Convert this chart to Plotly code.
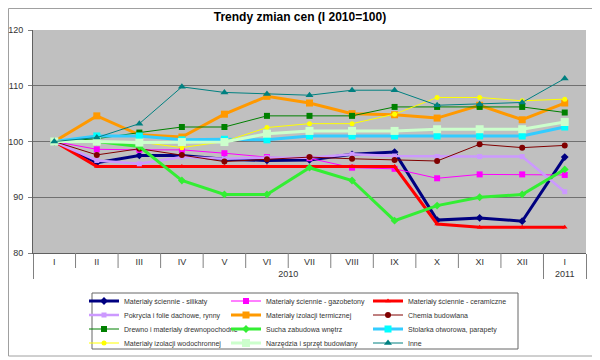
import plotly.graph_objects as go

months = ["I", "II", "III", "IV", "V", "VI", "VII", "VIII", "IX", "X", "XI", "XII", "I"]
years = ["2010"] * 12 + ["2011"]

silikaty      = [100, 96.2, 97.5, 97.5, 96.8, 96.6, 96.7, 97.7, 98.1, 85.9, 86.3, 85.7, 97.2]
gazobetony    = [100, 98.6, 98.5, 98.5, 97.9, 97.2, 97.0, 95.3, 95.1, 93.4, 94.1, 94.1, 94.0]
ceramiczne    = [100, 95.5, 95.5, 95.5, 95.5, 95.5, 95.5, 95.5, 95.5, 85.2, 84.6, 84.6, 84.6]
pokrycia      = [100, 96.6, 96.0, 97.2, 96.9, 97.1, 97.1, 97.7, 97.4, 97.3, 97.3, 97.3, 91.0]
termiczna     = [100, 104.6, 101.2, 100.8, 104.9, 108.1, 106.9, 105.0, 104.8, 104.2, 106.5, 103.9, 106.9]
chemia        = [100, 97.6, 98.7, 97.6, 96.4, 96.8, 97.2, 96.9, 96.7, 96.5, 99.5, 98.9, 99.3]
drewno        = [100, 100.5, 101.6, 102.6, 102.6, 104.6, 104.6, 104.6, 106.2, 106.2, 106.2, 106.2, 105.2]
sucha         = [100, 100.0, 99.1, 93.0, 90.5, 90.5, 95.3, 93.0, 85.8, 88.5, 90.0, 90.5, 95.0]
stolarka      = [100, 101.0, 101.0, 100.3, 100.4, 100.3, 101.0, 101.0, 101.0, 101.0, 101.0, 101.0, 102.6]
wodochronna   = [100, 100.0, 99.9, 98.9, 100.0, 102.5, 103.2, 103.2, 104.9, 107.9, 107.9, 107.3, 107.6]
narzedzia     = [100, 100.0, 99.8, 99.9, 99.9, 101.4, 101.9, 101.9, 101.9, 102.2, 102.2, 102.2, 103.5]
inne          = [100, 100.7, 103.2, 109.8, 108.8, 108.5, 108.3, 109.2, 109.2, 106.5, 106.7, 107.0, 111.3]

series = [
    ("Materiały ściennie - silikaty", silikaty, "#000080", 3, "diamond", 6, "#000080"),
    ("Materiały ściennie - gazobetony", gazobetony, "#FF00FF", 1, "square", 6, "#FF00FF"),
    ("Materiały ściennie - ceramiczne", ceramiczne, "#FF0000", 3, "triangle-up", 5, "#FF0000"),
    ("Pokrycia i folie dachowe, rynny", pokrycia, "#CC99FF", 2.5, "square", 5, "#CC99FF"),
    ("Materiały izolacji termicznej", termiczna, "#FF9900", 3, "square", 7, "#FF9900"),
    ("Chemia budowlana", chemia, "#800000", 1, "circle", 6, "#800000"),
    ("Drewno i materiały drewnopochodne", drewno, "#008000", 1, "square", 6, "#008000"),
    ("Sucha zabudowa wnętrz", sucha, "#33EE33", 3, "diamond", 6, "#33EE33"),
    ("Stolarka otworowa, parapety", stolarka, "#33CCFF", 3, "square", 7, "#00FFFF"),
    ("Materiały izolacji wodochronnej", wodochronna, "#FFFF00", 1, "circle", 5, "#FFFF00"),
    ("Narzędzia i sprzęt budowlany", narzedzia, "#CCFFCC", 3, "square", 8, "#CCFFCC"),
    ("Inne", inne, "#008080", 1, "triangle-up", 7, "#008080"),
]

# page has an 8px body margin; work in page pixels
OFF = 8
W, H = 592, 352                     # figure size (page 8..600, 8..360)
L, R, T, B = 33, 586, 30, 253       # plot area in page pixels

def px_x(p):
    return (p - L) / (R - L)

def px_y(p):
    return (B - p) / (B - T)

fig = go.Figure()
legend_ids = ["legend"] + ["legend%d" % i for i in range(2, 13)]
for i, (name, vals, col, lw, sym, ms, mcol) in enumerate(series):
    fig.add_trace(go.Scatter(
        x=[years, months], y=vals, name=name, mode="lines+markers",
        line=dict(color=col, width=lw),
        marker=dict(symbol=sym, size=ms, color=mcol),
        legend=legend_ids[i],
    ))

col_x = [84, 226, 368]
row_y = [301, 315, 329, 343]
legends = {}
for i, lid in enumerate(legend_ids):
    r, c = divmod(i, 3)
    legends[lid] = dict(
        x=px_x(col_x[c]), y=px_y(row_y[r]), xanchor="left", yanchor="middle",
        bgcolor="rgba(0,0,0,0)", borderwidth=0, itemwidth=30,
        font=dict(family="Liberation Sans, Arial", size=7, color="#333333"),
    )

fig.update_layout(
    width=W, height=H,
    margin=dict(l=L - OFF, r=W + OFF - R, t=T - OFF, b=H + OFF - B, autoexpand=False),
    paper_bgcolor="white", plot_bgcolor="#C0C0C0",
    title=dict(text="<b>Trendy zmian cen (I 2010=100)</b>", x=(300 - OFF) / W, xanchor="center",
               y=1 - (17 - OFF) / H, yanchor="middle",
               font=dict(family="Liberation Sans, Arial", size=12, color="#000000")),
    font=dict(family="Liberation Sans, Arial", size=9, color="#333333"),
    showlegend=True,
    **legends,
)

n = len(months)
fig.update_yaxes(range=[80, 120], dtick=10, showgrid=True, gridcolor="#707070", gridwidth=1,
                 ticks="outside", ticklen=4, tickcolor="#808080", showline=True, linecolor="#606060",
                 zeroline=False, ticklabelstandoff=3, tickfont=dict(size=9, color="#333333"))
fig.update_xaxes(type="multicategory", range=[-0.5, n - 0.5], autorange=False,
                 showgrid=False, ticks="",
                 showline=True, linecolor="#606060",
                 showdividers=True, dividercolor="#808080", dividerwidth=1,
                 tickfont=dict(size=9, color="#333333"))

# month boundary tick marks below the axis
for k in range(1, n):
    fig.add_shape(type="line", xref="paper", yref="paper",
                  x0=k / n, x1=k / n, y0=0, y1=px_y(268),
                  line=dict(color="#808080", width=1))

# legend frame and outer chart frame
fig.add_shape(type="rect", xref="paper", yref="paper",
              x0=px_x(92), x1=px_x(518), y0=px_y(349), y1=px_y(293),
              line=dict(color="#666666", width=1), fillcolor="rgba(0,0,0,0)", layer="below")
fig.add_shape(type="rect", xref="paper", yref="paper",
              x0=px_x(8.5), x1=px_x(593), y0=px_y(356), y1=px_y(8.5),
              line=dict(color="#A0A0A0", width=1), fillcolor="rgba(0,0,0,0)", layer="below")

fig.write_html("out.html")
